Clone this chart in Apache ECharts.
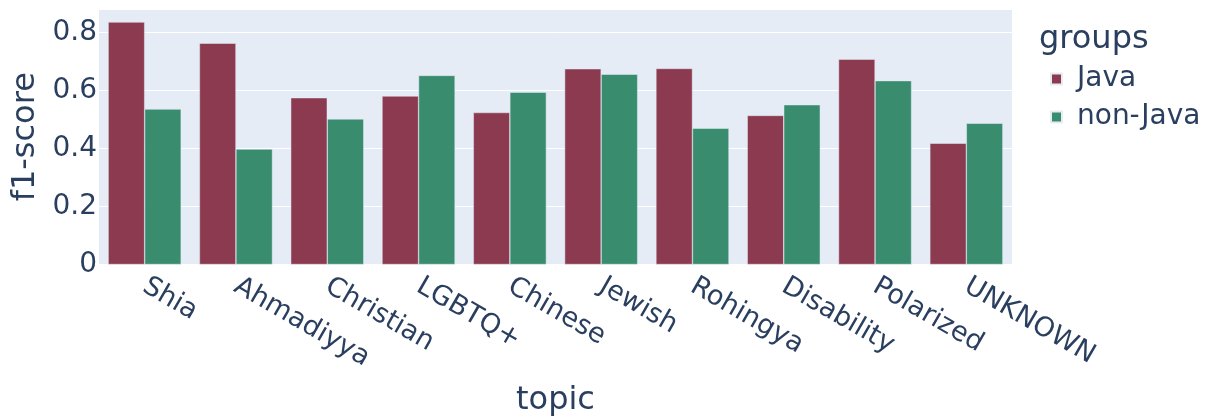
<!DOCTYPE html>
<html>
<head>
<meta charset="utf-8">
<script src="https://cdn.jsdelivr.net/npm/echarts@6/dist/echarts.min.js"></script>
<style>
html,body{margin:0;padding:0;background:#fff;}
#chart{width:1207px;height:418px;}
</style>
</head>
<body>
<div id="chart"></div>
<script>
const categories = ['Shia','Ahmadiyya','Christian','LGBTQ+','Chinese','Jewish','Rohingya','Disability','Polarized','UNKNOWN'];
const javaValues = [0.836,0.763,0.575,0.581,0.524,0.675,0.676,0.514,0.708,0.418];
const nonJavaValues = [0.536,0.398,0.502,0.652,0.594,0.656,0.470,0.551,0.634,0.487];
const seriesNames = ['Java','non-Java'];
const yTicks = [0,0.2,0.4,0.6,0.8];

const FONT = '"DejaVu Sans", sans-serif';
const TXT = '#2a3f5f';
const chart = echarts.init(document.getElementById('chart'), null, {renderer:'canvas'});
chart.setOption({
  animation:false,
  backgroundColor:'#ffffff',
  textStyle:{fontFamily:FONT,color:TXT},
  graphic:[{type:'text',left:1039,top:24,style:{text:'groups',font:'32px "DejaVu Sans", sans-serif',fill:TXT}}],
  legend:{
    data:seriesNames,orient:'vertical',left:1045,top:60,
    icon:'rect',itemWidth:11,itemHeight:11,itemGap:10,
    textStyle:{fontFamily:FONT,fontSize:28,color:TXT,padding:[0,0,0,10]}
  },
  grid:{left:99,right:195,top:9,bottom:153.5,show:true,backgroundColor:'#E5ECF6',borderWidth:0,
        containLabel:false,outerBoundsMode:'none'},
  xAxis:{
    type:'category',data:categories,
    axisLine:{show:false},axisTick:{show:false},
    axisLabel:{rotate:-30,fontSize:27,color:TXT,fontFamily:FONT,margin:20,interval:0},
    name:'topic',nameLocation:'middle',nameGap:120,
    nameTextStyle:{fontSize:32,color:TXT,fontFamily:FONT}
  },
  yAxis:{
    type:'value',min:0,max:0.881,interval:0.2,
    axisLine:{show:false},axisTick:{show:false},
    splitLine:{lineStyle:{color:'#ffffff',width:1}},
    axisLabel:{fontSize:28,color:TXT,fontFamily:FONT,margin:2,showMaxLabel:false,
      formatter:v=>{const t=yTicks.find(x=>Math.abs(x-v)<1e-6);return t===undefined?'':String(t);}},
    name:'f1-score',nameLocation:'middle',nameGap:56,
    nameTextStyle:{fontSize:32,color:TXT,fontFamily:FONT}
  },
  series:[
    {name:seriesNames[0],type:'bar',data:javaValues,barGap:'0%',barCategoryGap:'20%',
     itemStyle:{color:'#8B3A50',borderColor:'#E5ECF6',borderWidth:0.5}},
    {name:seriesNames[1],type:'bar',data:nonJavaValues,barGap:'0%',barCategoryGap:'20%',
     itemStyle:{color:'#3A8C6E',borderColor:'#E5ECF6',borderWidth:0.5}}
  ]
});
</script>
</body>
</html>
